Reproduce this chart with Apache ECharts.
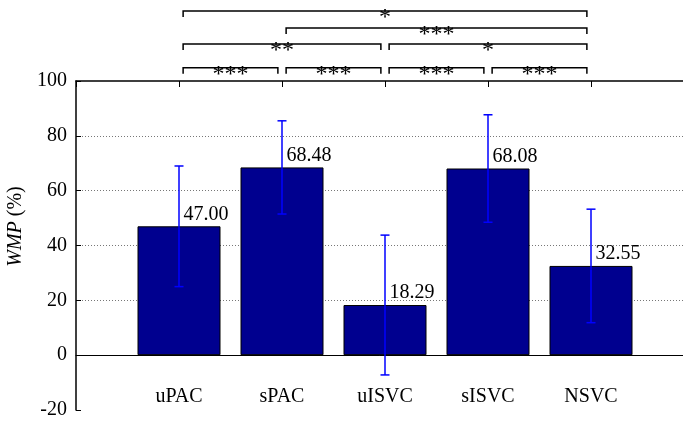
<!DOCTYPE html>
<html>
<head>
<meta charset="utf-8">
<script src="https://cdn.jsdelivr.net/npm/echarts@6/dist/echarts.min.js"></script>
<style>
html,body{margin:0;padding:0;background:#fff;}
#main{width:683px;height:423px;}
</style>
</head>
<body>
<div id="main"></div>
<script>
var categories = ['uPAC', 'sPAC', 'uISVC', 'sISVC', 'NSVC'];
var means = [47.00, 68.48, 18.29, 68.08, 32.55];
var errors = [22.0, 17.0, 25.5, 19.6, 20.7];
var yTicks = [-20, 0, 20, 40, 60, 80, 100];
// [from, to, height, stars]
var brackets = [
	[1, 2, 104.8, '***'],
	[2, 3, 104.8, '***'],
	[3, 4, 104.8, '***'],
	[4, 5, 104.8, '***'],
	[1, 3, 113.5, '**'],
	[3, 5, 113.5, '*'],
	[2, 5, 119.3, '***'],
	[1, 5, 125.5, '*']
];

var font = "'Liberation Serif', 'Times New Roman', serif";

var barData = means.map(function(v, i){ return [i + 1, v]; });
var errData = means.map(function(v, i){ return [i + 1, v - errors[i], v + errors[i]]; });

var chart = echarts.init(document.getElementById('main'));

chart.setOption({
	animation: false,
	grid: { left: 76, right: -11, top: 81, bottom: 13, outerBoundsMode: 'none', containLabel: false },
	xAxis: [
		{
			type: 'value',
			min: 0, max: 6, interval: 1,
			axisLine: { onZero: true, lineStyle: { color: '#000', width: 1 } },
			axisTick: { show: false },
			splitLine: { show: false },
			axisLabel: {
				margin: -23,
				color: '#000',
				fontFamily: font,
				fontSize: 20,
				formatter: function(v){ return categories[v - 1] || ''; }
			}
		},
		{
			type: 'value',
			position: 'top',
			min: 0, max: 6, interval: 1,
			axisLine: { lineStyle: { color: '#000', width: 1.5 } },
			axisTick: { inside: true, length: 6, lineStyle: { color: '#000' } },
			axisLabel: { show: false },
			splitLine: { show: false }
		}
	],
	yAxis: {
		type: 'value',
		min: yTicks[0], max: yTicks[yTicks.length - 1], interval: 20,
		name: '{i|WMP} (%)',
		nameLocation: 'middle',
		nameRotate: 90,
		nameGap: 39,
		nameTextStyle: {
			color: '#000',
			fontFamily: font,
			fontSize: 20,
			padding: [0, 0, 0, 38],
			rich: { i: { fontStyle: 'italic', fontFamily: font, fontSize: 20, color: '#000' } }
		},
		axisLine: { show: true, onZero: false, lineStyle: { color: '#000', width: 1.5 } },
		axisTick: { show: true, inside: true, length: 5, lineStyle: { color: '#000' } },
		axisLabel: { margin: 9, color: '#000', fontFamily: font, fontSize: 20 },
		splitLine: {
			show: true,
			lineStyle: {
				type: [1, 2],
				color: ['rgba(0,0,0,0)', '#555', '#777', '#777', '#777', '#777', 'rgba(0,0,0,0)']
			}
		}
	},
	series: [
		{
			type: 'bar',
			data: barData,
			barWidth: 83,
			itemStyle: { color: '#00008F', borderColor: '#000', borderWidth: 1 },
			label: {
				show: true,
				position: [46, -12],
				align: 'left',
				verticalAlign: 'middle',
				color: '#000',
				fontFamily: font,
				fontSize: 20,
				formatter: function(p){ return means[p.dataIndex].toFixed(2); }
			},
			z: 2
		},
		{
			type: 'custom',
			data: errData,
			z: 3,
			renderItem: function(params, api){
				var lo = api.coord([api.value(0), api.value(1)]);
				var hi = api.coord([api.value(0), api.value(2)]);
				var w = 4.5;
				var st = { stroke: '#0000FF', lineWidth: 1.5 };
				return {
					type: 'group',
					children: [
						{ type: 'line', shape: { x1: hi[0], y1: hi[1], x2: lo[0], y2: lo[1] }, style: st },
						{ type: 'line', shape: { x1: hi[0] - w, y1: hi[1], x2: hi[0] + w, y2: hi[1] }, style: st },
						{ type: 'line', shape: { x1: lo[0] - w, y1: lo[1], x2: lo[0] + w, y2: lo[1] }, style: st }
					]
				};
			}
		},
		{
			type: 'custom',
			data: brackets.map(function(b){ return [b[0], b[1], b[2]]; }),
			z: 3,
			clip: false,
			renderItem: function(params, api){
				var a = api.coord([api.value(0) + 0.04, api.value(2)]);
				var b = api.coord([api.value(1) - 0.04, api.value(2)]);
				return {
					type: 'group',
					children: [
						{
							type: 'polyline',
							shape: { points: [[a[0], a[1] + 6], [a[0], a[1]], [b[0], b[1]], [b[0], b[1] + 6]] },
							style: { stroke: '#000', lineWidth: 1.5, fill: null }
						},
						{
							type: 'text',
							x: (a[0] + b[0]) / 2,
							y: a[1] + 7,
							style: {
								text: brackets[params.dataIndex][3],
								align: 'center',
								verticalAlign: 'middle',
								fill: '#000',
								font: '24px ' + font
							}
						}
					]
				};
			}
		}
	]
});

window.onresize = function(){
	chart.resize();
};
</script>
</body>
</html>
